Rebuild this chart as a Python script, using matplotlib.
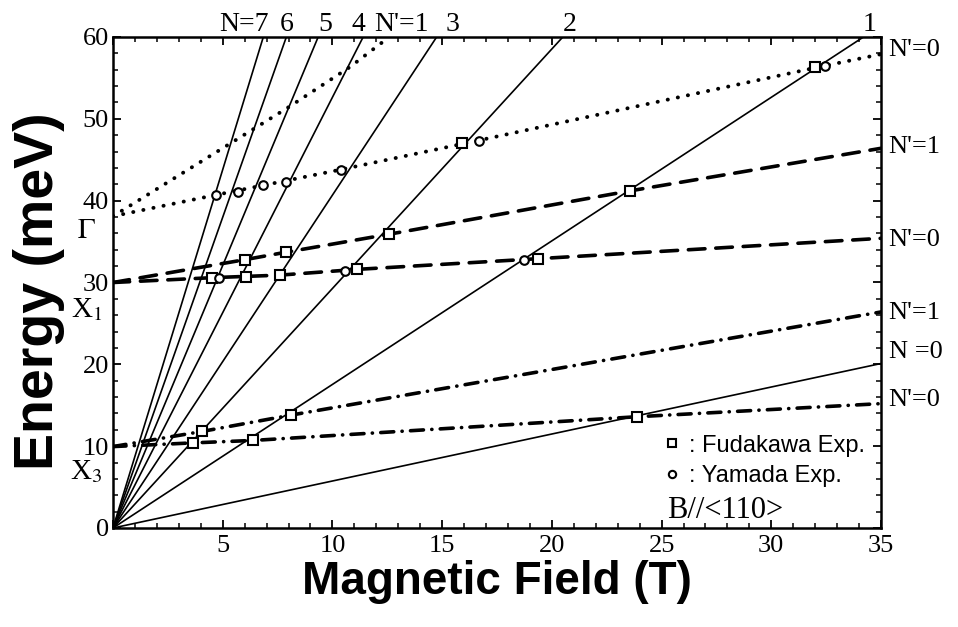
import matplotlib
matplotlib.use('Agg')
import matplotlib.pyplot as plt
from matplotlib.ticker import MultipleLocator
from matplotlib.font_manager import FontProperties

plt.rcParams['font.family'] = ['Liberation Serif', 'DejaVu Serif']
plt.rcParams['mathtext.fontset'] = 'stix'

# Landau fan (solid lines from the origin): end point of each level
fan_end_b = [35.0, 34.2, 20.5, 14.75, 11.4, 9.35, 7.9, 6.85]
fan_end_e = [20.1, 60, 60, 60, 60, 60, 60, 60]

# Gamma valley (dotted)
gamma_n0_b = [0, 4.69, 10.39, 16.3, 32.2, 35]
gamma_n0_e = [38.1, 40.7, 43.8, 47.15, 56.35, 57.9]
gamma_n1_b = [0, 5.35, 7.93, 10.78, 12.59]
gamma_n1_e = [38.1, 47.0, 51.3, 56.3, 60]

# X1 valley (dashed)
x1_n1_b = [0, 6.03, 7.88, 12.58, 23.57, 35]
x1_n1_e = [30.0, 32.8, 33.7, 35.9, 41.2, 46.4]
x1_n0_b = [0, 4.6, 7.6, 11.1, 19.3, 35]
x1_n0_e = [30.0, 30.6, 30.9, 31.6, 32.9, 35.4]

# X3 valley (dash-dot)
x3_n1_b = [0, 4.06, 8.12, 35]
x3_n1_e = [9.95, 11.8, 13.8, 26.4]
x3_n0_b = [0, 3.63, 6.39, 23.9, 35]
x3_n0_e = [9.95, 10.4, 10.7, 13.6, 15.2]

# experimental points
fudakawa_b = [4.51, 6.04, 7.59, 11.12, 19.37, 6.03, 7.88, 12.58, 23.57,
              15.92, 31.98, 3.63, 4.06, 6.39, 8.12, 23.9]
fudakawa_e = [30.6, 30.7, 30.9, 31.6, 32.9, 32.8, 33.7, 35.9, 41.2,
              47.0, 56.3, 10.4, 11.8, 10.7, 13.8, 13.6]
yamada_b = [4.82, 10.56, 18.75, 4.69, 5.69, 6.83, 7.87, 10.39, 16.68, 32.43]
yamada_e = [30.6, 31.4, 32.8, 40.7, 41.1, 41.9, 42.3, 43.8, 47.3, 56.4]

# level labels
top_labels = ['N=7', '6', '5', '4', "N'=1", '3', '2', '1']
top_label_b = [5.98, 7.93, 9.67, 11.17, 13.13, 15.46, 20.83, 34.46]
right_labels = ["N'=0", "N'=1", "N'=0", "N'=1", 'N =0', "N'=0"]
right_label_e = [58.4, 46.6, 35.2, 26.3, 21.5, 15.6]
valley_labels = [r'$\Gamma$', r'X$_{\rm 1}$', r'X$_{\rm 3}$']
valley_label_e = [36.3, 26.7, 6.9]

fig = plt.figure(figsize=(9.58, 6.27), dpi=100)
ax = fig.add_axes([113 / 958, 99 / 627, 768 / 958, 491 / 627])

for b, e in zip(fan_end_b, fan_end_e):
    ax.plot([0, b], [0, e], color='black', lw=1.2, solid_capstyle='butt')

dot_style = dict(color='black', lw=2.8, dash_capstyle='round')
ax.plot(gamma_n0_b, gamma_n0_e, dashes=[0.05, 2.6], **dot_style)
ax.plot(gamma_n1_b, gamma_n1_e, dashes=[0.05, 2.6], **dot_style)

dash_style = dict(color='black', lw=2.6, dash_capstyle='round')
ax.plot(x1_n1_b, x1_n1_e, dashes=[4.6, 3.0], **dash_style)
ax.plot(x1_n0_b, x1_n0_e, dashes=[4.6, 3.0], **dash_style)

ax.plot(x3_n1_b, x3_n1_e, dashes=[3.6, 2.3, 0.05, 2.3], **dash_style)
ax.plot(x3_n0_b, x3_n0_e, dashes=[3.6, 2.3, 0.05, 2.3], **dash_style)

sq, = ax.plot(fudakawa_b, fudakawa_e, 's', ms=6.5, mfc='white', mec='black',
              mew=1.5, zorder=5)
ci, = ax.plot(yamada_b, yamada_e, 'o', ms=6.2, mfc='white', mec='black',
              mew=1.5, zorder=5)

ax.set_xlim(0, 35)
ax.set_ylim(0, 60)
ax.set_xticks(range(0, 36, 5))
ax.set_xticklabels([''] + [str(v) for v in range(5, 36, 5)])
ax.set_yticks(range(0, 61, 10))
ax.xaxis.set_minor_locator(MultipleLocator(1))
ax.yaxis.set_minor_locator(MultipleLocator(2))
ax.tick_params(which='both', direction='in', top=True, right=True)
ax.tick_params(which='major', length=6, width=1.3, labelsize=19)
ax.tick_params(which='minor', length=3.5, width=1.1)
ax.tick_params(axis='x', pad=5)
ax.tick_params(axis='y', pad=3)
for sp in ax.spines.values():
    sp.set_linewidth(1.8)

for lab, b in zip(top_labels, top_label_b):
    ax.text(b, 60.7, lab, ha='center', va='baseline', fontsize=20, clip_on=False)
for lab, e in zip(right_labels, right_label_e):
    ax.text(35.35, e, lab, ha='left', va='center', fontsize=19, clip_on=False)
for lab, e in zip(valley_labels, valley_label_e):
    ax.text(-1.2, e, lab, ha='center', va='center', fontsize=21, clip_on=False)

sans_bold = dict(family=['Liberation Sans', 'DejaVu Sans'], weight='bold')
ax.set_xlabel('Magnetic Field (T)', fontsize=33, labelpad=2, **sans_bold)
ax.set_ylabel('Energy (meV)', fontsize=40, **sans_bold)
ax.yaxis.set_label_coords(-0.062, 0.483)

leg = ax.legend([sq, ci], [': Fudakawa Exp.', ': Yamada Exp.'],
                loc='upper left', bbox_to_anchor=(0.713, 0.19), frameon=False,
                borderpad=0, borderaxespad=0, handlelength=1.0,
                handletextpad=0.2, labelspacing=0.37, markerscale=0.85,
                prop=FontProperties(family=['Liberation Sans'], size=17))
ax.text(0.722, 0.036, 'B//<110>', transform=ax.transAxes, ha='left',
        va='center', fontsize=22)

fig.savefig('out.png', dpi=100)
